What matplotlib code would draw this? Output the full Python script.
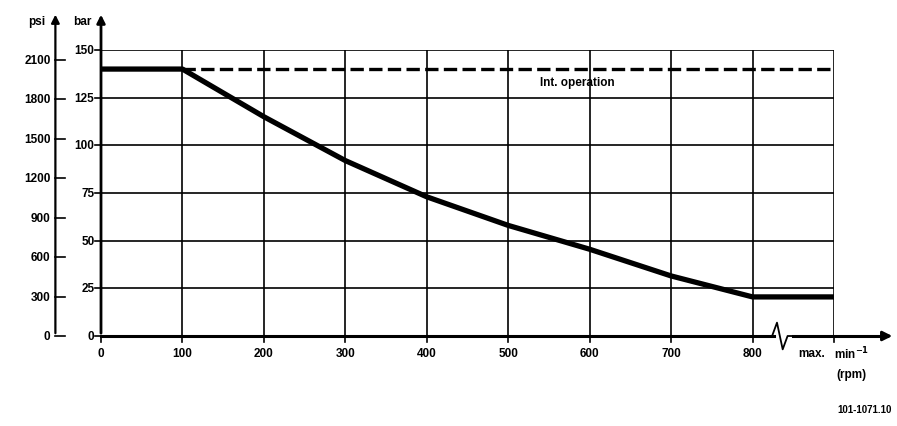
import matplotlib.pyplot as plt

plt.rcParams['font.family'] = ['Liberation Sans', 'DejaVu Sans']
plt.rcParams['font.weight'] = 'bold'

# rpm values and pressure limit (bar), 900 = "max."
speed = [0, 100, 200, 300, 400, 500, 600, 700, 800, 900]
pressure = [140, 140, 115, 92, 73, 58, 45.5, 31.5, 20.5, 20.5]
int_speed = [100, 900]
int_pressure = [140, 140]

x_ticks = [0, 100, 200, 300, 400, 500, 600, 700, 800]
bar_ticks = [0, 25, 50, 75, 100, 125, 150]
psi_ticks = [0, 300, 600, 900, 1200, 1500, 1800, 2100]
PSI_PER_BAR = 14.5038

fig = plt.figure(figsize=(8.97, 4.27), dpi=100)
W, H = 897, 427
x0, x1 = 101, 834
y0, y1 = 337, 51
ax = fig.add_axes([x0 / W, (H - y0) / H, (x1 - x0) / W, (y0 - y1) / H])
ax.set_xlim(0, 900)
ax.set_ylim(0, 150)
ax.axis('off')

# grid
for b in bar_ticks[1:]:
    ax.plot([0, 900], [b, b], color='black', lw=1.2)
for s in x_ticks[1:] + [900]:
    ax.plot([s, s], [0, 150], color='black', lw=1.2)

# curve and intermittent line
ax.plot(speed, pressure, color='black', lw=3.8, solid_capstyle='butt')
ax.plot(int_speed, int_pressure, color='black', lw=2.4, dashes=(4, 1.6))
ax.text(585, 133, 'Int. operation', ha='center', va='center', fontsize=8.5)

# x axis with break and arrow
ax.plot([0, 826], [0, 0], color='black', lw=2.2, clip_on=False)
ax.plot([850, 965], [0, 0], color='black', lw=2.2, clip_on=False)
ax.plot([824, 830, 837, 843, 850], [0, 7, -7, 0, 0], color='black', lw=1.3, clip_on=False)
ax.annotate('', xy=(975, 0), xytext=(955, 0),
            arrowprops=dict(arrowstyle='-|>', color='black', lw=2, mutation_scale=14),
            annotation_clip=False)
for s in x_ticks + [900]:
    ax.plot([s, s], [0, -3], color='black', lw=1.2, clip_on=False)
for s in x_ticks:
    ax.text(s, -9, str(s), ha='center', va='center', fontsize=8.5)
ax.text(873, -9, 'max.', ha='center', va='center', fontsize=8.5)
ax.text(922, -9, 'min$^{-1}$', ha='center', va='center', fontsize=8.5)
ax.text(922, -20, '(rpm)', ha='center', va='center', fontsize=8.5)
fig.text(0.994, (H - 410) / H, '101-1071.10', ha='right', va='center', fontsize=7)

# bar axis
ax.annotate('', xy=(0, 170), xytext=(0, 0),
            arrowprops=dict(arrowstyle='-|>', color='black', lw=2, mutation_scale=12),
            annotation_clip=False)
for b in bar_ticks:
    ax.plot([-7, 0], [b, b], color='black', lw=1.2, clip_on=False)
    ax.text(-8, b, str(b), ha='right', va='center', fontsize=8.5)
ax.text(-12, 165, 'bar', ha='right', va='center', fontsize=8.5)

# psi axis
px = -56
ax.annotate('', xy=(px, 170), xytext=(px, 0),
            arrowprops=dict(arrowstyle='-|>', color='black', lw=1.6, mutation_scale=12),
            annotation_clip=False)
for p in psi_ticks:
    b = p / PSI_PER_BAR
    ax.plot([px, px + 12], [b, b], color='black', lw=1.2, clip_on=False)
    ax.text(px - 6, b, str(p), ha='right', va='center', fontsize=8.5)
ax.text(px - 12, 165, 'psi', ha='right', va='center', fontsize=8.5)

fig.savefig('out.png', dpi=100)
